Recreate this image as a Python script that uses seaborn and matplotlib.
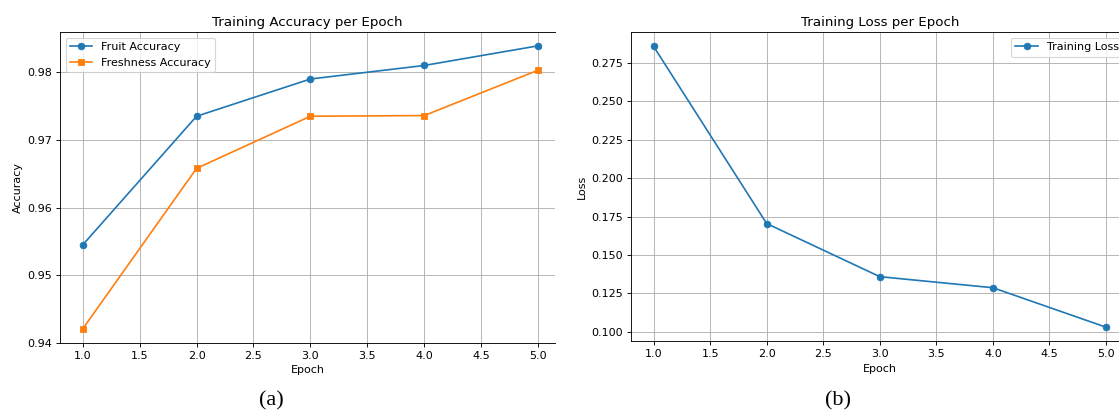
import numpy as np
import pandas as pd
import matplotlib
matplotlib.use("Agg")
import matplotlib.pyplot as plt
import seaborn as sns

epochs = [1, 2, 3, 4, 5]
fruit_acc = [0.9545, 0.9735, 0.9790, 0.9810, 0.9839]
fresh_acc = [0.9421, 0.9658, 0.9735, 0.9736, 0.9803]
train_loss = [0.2858, 0.1704, 0.1358, 0.1286, 0.1029]

W, H = 1119, 412
DPI = 80
fig = plt.figure(figsize=(W / DPI, H / DPI), dpi=DPI)

blue = "#1f77b4"
orange = "#ff7f0e"

# left panel (clipped on the right like the reference)
ax1 = fig.add_axes([60 / W, 1 - 343 / H, (555 - 60) / W, (343 - 32.3) / H])
sns.lineplot(x=epochs, y=fruit_acc, marker="o", color=blue, mec=blue,
             label="Fruit Accuracy", ax=ax1)
sns.lineplot(x=epochs, y=fresh_acc, marker="s", color=orange, mec=orange,
             label="Freshness Accuracy", ax=ax1)
ax1.set_xlim(0.8, 5.149)
ax1.set_ylim(0.9400, 0.9859)
ax1.set_yticks([0.94, 0.95, 0.96, 0.97, 0.98])
ax1.set_xticks(np.arange(1.0, 5.01, 0.5))
ax1.spines["right"].set_visible(False)
ax1.set_title("Training Accuracy per Epoch")
ax1.set_xlabel("Epoch")
ax1.set_ylabel("Accuracy")
ax1.grid(True)
ax1.legend(loc="upper left")

# right panel, extends past the figure edge
ax2 = fig.add_axes([631 / W, 1 - 341.3 / H, (1128.6 - 631) / W, (341.3 - 32.3) / H])
sns.lineplot(x=epochs, y=train_loss, marker="o", color=blue, mec=blue,
             label="Training Loss", ax=ax2)
ax2.set_xlim(0.8, 5.2)
ax2.set_ylim(0.0937, 0.2950)
ax2.set_yticks([0.100, 0.125, 0.150, 0.175, 0.200, 0.225, 0.250, 0.275])
ax2.yaxis.set_major_formatter(matplotlib.ticker.FormatStrFormatter("%.3f"))
ax2.set_xticks(np.arange(1.0, 5.01, 0.5))
ax2.set_title("Training Loss per Epoch")
ax2.set_xlabel("Epoch")
ax2.set_ylabel("Loss")
ax2.grid(True)
ax2.legend(loc="upper right")

fig.text(271 / W, 1 - 401 / H, "(a)", family="Liberation Serif", fontsize=20,
         ha="center", va="center")
fig.text(838 / W, 1 - 401 / H, "(b)", family="Liberation Serif", fontsize=20,
         ha="center", va="center")

fig.savefig("out.png", dpi=DPI)
